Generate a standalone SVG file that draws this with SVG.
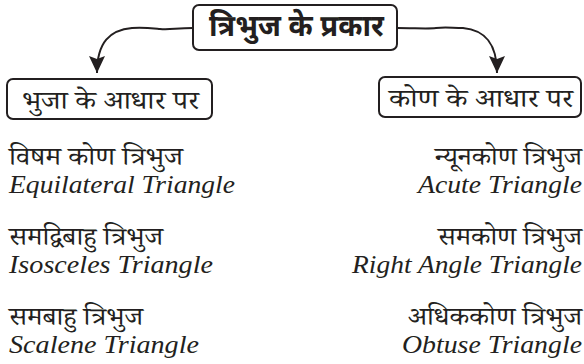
<svg xmlns="http://www.w3.org/2000/svg" width="584" height="364" viewBox="0 0 584 364">
<style>
.box{fill:#fff;stroke:#231f20;stroke-width:2}
.con{fill:none;stroke:#231f20;stroke-width:2}
.hd{font-family:"Noto Sans Devanagari","Noto Sans",sans-serif;font-weight:bold;font-size:30px;fill:#231f20}
.hi{font-family:"Noto Serif Devanagari","Noto Sans Devanagari","Noto Sans",serif;font-size:25px;fill:#231f20}
.en{font-family:"Liberation Serif",serif;font-style:italic;font-size:25px;fill:#231f20}
</style>
<defs>
<marker id="ah" markerUnits="userSpaceOnUse" markerWidth="18" markerHeight="18" viewBox="0 0 18 18" refX="17" refY="8.5" orient="auto">
<path d="M0,0.5 L17,8.5 L0,16.5 L3,8.5 z" fill="#231f20"/>
</marker>
</defs>
<g id="connectors">
<path class="con" d="M193,28 C176,28 170,30 160,29 C150,28 142,27 132,28 C110,30 97,42 97,73" marker-end="url(#ah)"/>
<path class="con" d="M397,28 C415,28 428,29 436,28 C446,27 452,28 463,28 C484,30 497,42 497,73" marker-end="url(#ah)"/>
</g>
<g id="root">
<rect class="box" x="193" y="5" width="204" height="45" rx="6"/>
<text class="hd" x="209" y="36" textLength="175" lengthAdjust="spacingAndGlyphs">त्रिभुज के प्रकार</text>
</g>
<g id="side">
<rect class="box" x="7" y="79" width="205" height="40" rx="6"/>
<text class="hi" x="22" y="109" textLength="177" lengthAdjust="spacingAndGlyphs">भुजा के आधार पर</text>
</g>
<g id="angle">
<rect class="box" x="379" y="77" width="202" height="40" rx="6"/>
<text class="hi" x="389" y="107" textLength="184" lengthAdjust="spacingAndGlyphs">कोण के आधार पर</text>
</g>
<g id="left-list">
<text class="hi" x="9" y="165" textLength="174" lengthAdjust="spacingAndGlyphs">विषम कोण त्रिभुज</text>
<text class="en" x="9" y="193" textLength="226" lengthAdjust="spacingAndGlyphs">Equilateral Triangle</text>
<text class="hi" x="9" y="245" textLength="154" lengthAdjust="spacingAndGlyphs">समद्विबाहु त्रिभुज</text>
<text class="en" x="9" y="273" textLength="204" lengthAdjust="spacingAndGlyphs">Isosceles Triangle</text>
<text class="hi" x="9" y="325" textLength="134" lengthAdjust="spacingAndGlyphs">समबाहु त्रिभुज</text>
<text class="en" x="9" y="353" textLength="190" lengthAdjust="spacingAndGlyphs">Scalene Triangle</text>
</g>
<g id="right-list">
<text class="hi" x="435" y="165" textLength="147" lengthAdjust="spacingAndGlyphs">न्यूनकोण त्रिभुज</text>
<text class="en" x="418" y="193" textLength="164" lengthAdjust="spacingAndGlyphs">Acute Triangle</text>
<text class="hi" x="438" y="245" textLength="144" lengthAdjust="spacingAndGlyphs">समकोण त्रिभुज</text>
<text class="en" x="352" y="273" textLength="230" lengthAdjust="spacingAndGlyphs">Right Angle Triangle</text>
<text class="hi" x="408" y="325" textLength="174" lengthAdjust="spacingAndGlyphs">अधिककोण त्रिभुज</text>
<text class="en" x="402" y="353" textLength="180" lengthAdjust="spacingAndGlyphs">Obtuse Triangle</text>
</g>
</svg>
